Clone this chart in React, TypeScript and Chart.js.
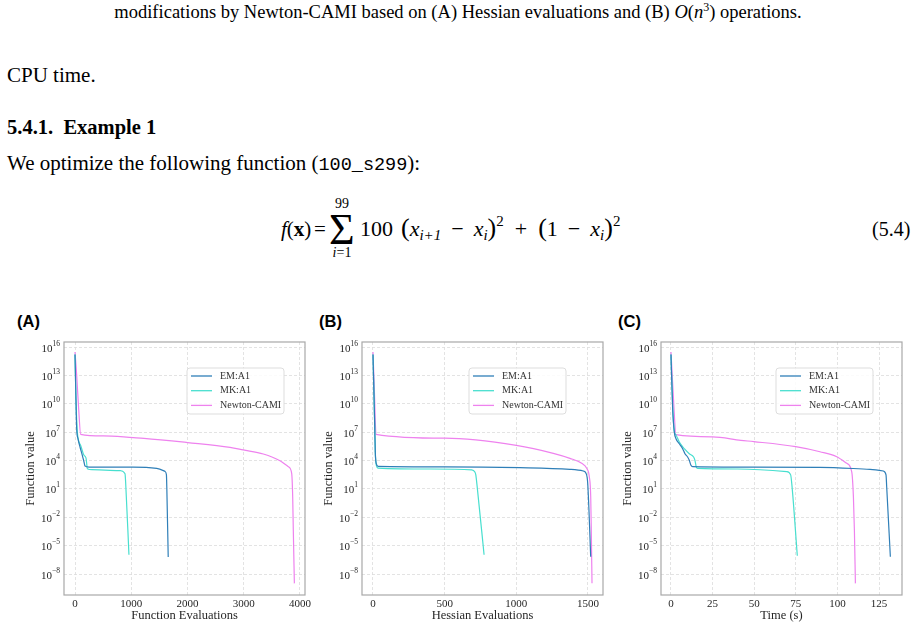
import React, { useEffect, useRef } from "react";
import { Chart, registerables } from "chart.js";

Chart.register(...registerables);

// ---------- data (x values and log10 of function value) ----------
// Panel A: Function Evaluations
const emA_x = [0, 15, 30, 53, 89, 130, 160, 178, 250, 1036, 1452, 1600, 1625, 1632, 1657];
const emA_log = [15.2, 11, 7.36, 6.31, 5.43, 4.55, 3.84, 3.42, 3.31, 3.3, 3.17, 2.85, 2.5, 1.2, -6.2];
const mkA_x = [0, 15, 41, 101, 160, 196, 208, 219, 300, 812, 889, 900, 959];
const mkA_log = [15.2, 11, 7.0, 5.6, 4.55, 4.26, 3.66, 3.13, 3.03, 2.92, 2.6, 1.73, -5.97];
const ncA_x = [0, 30, 65, 101, 500, 1036, 1227, 2001, 2756, 2990, 3348, 3644, 3793, 3852, 3870, 3881, 3900];
const ncA_log = [15.47, 13.0, 9.48, 6.77, 6.6, 6.42, 6.35, 5.9, 5.39, 5.12, 4.69, 3.98, 3.35, 2.65, 0.18, -3.35, -8.99];

// Panel B: Hessian Evaluations
const emB_x = [0, 12, 16, 23, 35, 500, 1025, 1374, 1467, 1486, 1498, 1519];
const emB_log = [15.2, 7.72, 4.9, 3.66, 3.38, 3.33, 3.24, 3.07, 2.89, 2.65, 1.59, -6.17];
const mkB_x = [0, 12, 16, 23, 35, 400, 689, 710, 717, 725, 775];
const mkB_log = [15.2, 7.72, 4.9, 3.5, 3.2, 3.1, 3.0, 2.8, 2.5, 1.5, -5.97];
const ncB_x = [0, 10, 21, 502, 1000, 1258, 1374, 1456, 1491, 1509, 1519, 1523, 1528];
const ncB_log = [15.47, 11.2, 6.77, 6.36, 5.6, 4.76, 4.23, 3.7, 3.17, 2.29, 0.18, -3.35, -8.99];

// Panel C: Time (s)
const emC_x = [0, 1.0, 2.0, 3.0, 5.0, 7.0, 8.4, 10, 11, 12, 13, 40, 89.5, 119.6, 127.6, 129.2, 129.6, 131.8];
const emC_log = [15.2, 9.48, 7.0, 6.3, 5.77, 5.25, 4.72, 4.37, 4.02, 3.49, 3.35, 3.3, 3.28, 3.07, 2.89, 2.47, 1.23, -6.17];
const mkC_x = [0, 1.0, 2.0, 3.0, 5.0, 8.0, 11, 13.6, 14.4, 15.2, 16, 40, 69.5, 71.9, 72.6, 75.9];
const mkC_log = [15.2, 9.8, 7.1, 6.7, 5.95, 5.25, 4.72, 4.37, 4.02, 3.31, 3.17, 3.1, 2.83, 2.48, 1.5, -6.07];
const ncC_x = [0, 1.5, 3.0, 25, 42, 49.8, 74.9, 89.5, 99.6, 105.6, 108.6, 109.6, 110.2, 110.8];
const ncC_log = [15.47, 10.5, 6.73, 6.5, 6.13, 6.0, 5.47, 4.93, 4.4, 3.7, 2.81, 0.18, -3.35, -8.99];

const seriesNames = ["EM:A1", "MK:A1", "Newton-CAMI"];
const seriesColors = ["#2f7fb8", "#48dfcf", "#ee82ee"];

const yTickValues = [1e-8, 1e-5, 1e-2, 1e1, 1e4, 1e7, 1e10, 1e13, 1e16];
const yTickBase = "10";
const yTickExponents = ["−8", "−5", "−2", "1", "4", "7", "10", "13", "16"];
const xTicksA = [0, 1000, 2000, 3000, 4000];
const xTicksB = [0, 500, 1000, 1500];
const xTicksC = [0, 25, 50, 75, 100, 125];

const FAMILY = "'Liberation Serif', 'Times New Roman', serif";
const TEXT = "#262626";

const toPoints = (xs: number[], logs: number[]) => xs.map((x, i) => ({ x, y: Math.pow(10, logs[i]) }));

const framePlugin = {
  id: "frameLegend",
  afterDraw(chart: any, _args: any, opts: any) {
    const { ctx, chartArea } = chart;
    const { left, top, right, bottom } = chartArea;
    ctx.save();
    // y tick labels with real superscripts
    const ys = chart.scales.y;
    ctx.fillStyle = TEXT;
    ctx.textBaseline = "alphabetic";
    ctx.textAlign = "left";
    yTickValues.forEach((v, i) => {
      const py = ys.getPixelForValue(v);
      ctx.font = `7.5px ${FAMILY}`;
      const ew = ctx.measureText(yTickExponents[i]).width;
      ctx.font = `11px ${FAMILY}`;
      const bw = ctx.measureText(yTickBase).width;
      const xr = left - 4;
      ctx.fillText(yTickBase, xr - ew - bw, py + 4.5);
      ctx.font = `7.5px ${FAMILY}`;
      ctx.fillText(yTickExponents[i], xr - ew, py - 1.5);
    });
    ctx.strokeStyle = "#a8a8a8";
    ctx.lineWidth = 1.2;
    ctx.strokeRect(left, top, right - left, bottom - top);
    // legend
    const lx = left + opts.legendLeft;
    const ly = top + 26;
    const w = 97, h = 46, r = 3;
    ctx.beginPath();
    ctx.moveTo(lx + r, ly);
    ctx.lineTo(lx + w - r, ly);
    ctx.quadraticCurveTo(lx + w, ly, lx + w, ly + r);
    ctx.lineTo(lx + w, ly + h - r);
    ctx.quadraticCurveTo(lx + w, ly + h, lx + w - r, ly + h);
    ctx.lineTo(lx + r, ly + h);
    ctx.quadraticCurveTo(lx, ly + h, lx, ly + h - r);
    ctx.lineTo(lx, ly + r);
    ctx.quadraticCurveTo(lx, ly, lx + r, ly);
    ctx.closePath();
    ctx.fillStyle = "rgba(255,255,255,0.85)";
    ctx.fill();
    ctx.strokeStyle = "#dddddd";
    ctx.lineWidth = 1;
    ctx.stroke();
    chart.data.datasets.forEach((ds: any, i: number) => {
      const ry = ly + 8 + i * 14.7;
      ctx.strokeStyle = ds.borderColor;
      ctx.lineWidth = 1.3;
      ctx.beginPath();
      ctx.moveTo(lx + 4, ry);
      ctx.lineTo(lx + 25, ry);
      ctx.stroke();
      ctx.fillStyle = "#333333";
      ctx.font = `10px ${FAMILY}`;
      ctx.textBaseline = "middle";
      ctx.textAlign = "left";
      ctx.fillText(ds.label, lx + 33, ry);
    });
    ctx.restore();
  },
};

type PanelProps = {
  left: number;
  xs: number[][];
  logs: number[][];
  xMin: number;
  xMax: number;
  xTicks: number[];
  xTitle: string;
  legendLeft: number;
};

function Panel({ left, xs, logs, xMin, xMax, xTicks, xTitle, legendLeft }: PanelProps) {
  const ref = useRef<HTMLCanvasElement>(null);
  useEffect(() => {
    const chart = new Chart(ref.current as HTMLCanvasElement, {
      type: "line",
      data: {
        datasets: seriesNames.map((name, i) => ({
          label: name,
          data: toPoints(xs[i], logs[i]),
          borderColor: seriesColors[i],
          backgroundColor: seriesColors[i],
          borderWidth: 1.2,
          pointRadius: 0,
          cubicInterpolationMode: "monotone" as const,
          fill: false,
        })),
      },
      options: {
        responsive: false,
        animation: false,
        layout: { padding: { left: 0, right: 15, top: 12, bottom: 0 } },
        plugins: {
          legend: { display: false },
          tooltip: { enabled: false },
          frameLegend: { legendLeft },
        } as any,
        scales: {
          x: {
            type: "linear",
            min: xMin,
            max: xMax,
            afterBuildTicks: (s: any) => {
              s.ticks = xTicks.map((v) => ({ value: v }));
            },
            afterFit: (s: any) => {
              s.height = 35;
            },
            ticks: {
              font: { family: FAMILY, size: 11 },
              color: TEXT,
              padding: 3,
              autoSkip: false,
              maxRotation: 0,
              callback: (v: any) => String(v),
            },
            grid: { color: "#dcdcdc", lineWidth: 0.8, drawTicks: false, borderDash: [3, 2] } as any,
            border: { display: false, dash: [3, 2] },
            title: {
              display: true,
              text: xTitle,
              font: { family: FAMILY, size: 12.5 },
              color: TEXT,
              padding: { top: 0, bottom: 6.5 },
            },
          },
          y: {
            type: "logarithmic",
            min: Math.pow(10, -10.22),
            max: Math.pow(10, 16.53),
            afterBuildTicks: (s: any) => {
              s.ticks = yTickValues.map((v) => ({ value: v }));
            },
            afterFit: (s: any) => {
              s.width = 54;
            },
            ticks: {
              display: false,
              autoSkip: false,
            },
            grid: { color: "#dcdcdc", lineWidth: 0.8, drawTicks: false, borderDash: [3, 2] } as any,
            border: { display: false, dash: [3, 2] },
            title: {
              display: true,
              text: "Function value",
              font: { family: FAMILY, size: 12.5 },
              color: TEXT,
              padding: { top: 13, bottom: 0 },
            },
          },
        },
      } as any,
      plugins: [framePlugin],
    });
    return () => chart.destroy();
  }, []);
  return (
    <div style={{ position: "absolute", left, top: 330, width: 310, height: 300 }}>
      <canvas ref={ref} width={310} height={300} style={{ width: 310, height: 300, display: "block" }} />
    </div>
  );
}

const serif = "'Liberation Serif', 'Times New Roman', serif";
const abs = (l: number, t: number, extra: React.CSSProperties = {}): React.CSSProperties => ({
  position: "absolute",
  left: l,
  top: t,
  whiteSpace: "nowrap",
  fontFamily: serif,
  color: "#000",
  ...extra,
});
const subSt: React.CSSProperties = { fontSize: 15, verticalAlign: "-4px", lineHeight: 0, fontStyle: "italic" };
const supSt: React.CSSProperties = { fontSize: 15, verticalAlign: "10px", lineHeight: 0 };
const gap = (w: number) => <span style={{ display: "inline-block", width: w }} />;
const bigParen: React.CSSProperties = { fontSize: 26, lineHeight: 0 };

export default function App() {
  return (
    <div style={{ position: "absolute", left: 0, top: 0, width: 913, height: 630, background: "#fff", overflow: "hidden" }}>
      <div style={abs(0, 1, { width: 916, textAlign: "center", fontSize: 18.5, lineHeight: "22px" })}>
        modifications by Newton-CAMI based on (A) Hessian evaluations and (B) <i>O</i>(<i>n</i>
        <sup style={{ fontSize: 12, lineHeight: 0 }}>3</sup>) operations.
      </div>
      <div style={abs(7, 63, { fontSize: 21, lineHeight: "24px" })}>CPU time.</div>
      <div style={abs(7, 115, { fontSize: 20.5, lineHeight: "24px", fontWeight: "bold" })}>5.4.1.&nbsp; Example 1</div>
      <div style={abs(7, 151, { fontSize: 21, lineHeight: "24px" })}>
        We optimize the following function (
        <span style={{ fontFamily: "'Liberation Mono', monospace", fontSize: 18.5 }}>100_s299</span>):
      </div>
      {/* equation */}
      <div style={abs(281, 214, { fontSize: 21, lineHeight: "30px" })}>
        <i>f</i>(<b>x</b>)
      </div>
      <div style={abs(314, 214, { fontSize: 21, lineHeight: "30px" })}>=</div>
      <div style={abs(329, 208, { fontSize: 44, lineHeight: "44px" })}>Σ</div>
      <div style={abs(328, 196, { width: 28, textAlign: "center", fontSize: 14, lineHeight: "16px" })}>99</div>
      <div style={abs(328, 245, { width: 28, textAlign: "center", fontSize: 14, lineHeight: "16px" })}>
        <i>i</i>=1
      </div>
      <div style={abs(360, 214, { fontSize: 22, lineHeight: "30px" })}>
        100{gap(8)}
        <span style={bigParen}>(</span>
        <i>x</i>
        <span style={subSt}>i+1</span>
        {gap(10)}−{gap(10)}
        <i>x</i>
        <span style={subSt}>i</span>
        <span style={bigParen}>)</span>
        <span style={supSt}>2</span>
        {gap(11)}+{gap(11)}
        <span style={bigParen}>(</span>1{gap(10)}−{gap(10)}
        <i>x</i>
        <span style={subSt}>i</span>
        <span style={bigParen}>)</span>
        <span style={supSt}>2</span>
      </div>
      <div style={abs(872, 214, { fontSize: 20, lineHeight: "30px" })}>(5.4)</div>

      {/* panel labels */}
      <div style={abs(17, 311, { fontFamily: "'Liberation Sans', Arial, sans-serif", fontWeight: "bold", fontSize: 16.5, lineHeight: "20px" })}>(A)</div>
      <div style={abs(319, 311, { fontFamily: "'Liberation Sans', Arial, sans-serif", fontWeight: "bold", fontSize: 16.5, lineHeight: "20px" })}>(B)</div>
      <div style={abs(618, 311, { fontFamily: "'Liberation Sans', Arial, sans-serif", fontWeight: "bold", fontSize: 16.5, lineHeight: "20px" })}>(C)</div>

      <Panel
        left={10}
        xs={[emA_x, mkA_x, ncA_x]}
        logs={[emA_log, mkA_log, ncA_log]}
        xMin={-195.6}
        xMax={4088.9}
        xTicks={xTicksA}
        xTitle="Function Evaluations"
        legendLeft={123}
      />
      <Panel
        left={308}
        xs={[emB_x, mkB_x, ncB_x]}
        logs={[emB_log, mkB_log, ncB_log]}
        xMin={-76.7}
        xMax={1604.7}
        xTicks={xTicksB}
        xTitle="Hessian Evaluations"
        legendLeft={107}
      />
      <Panel
        left={607}
        xs={[emC_x, mkC_x, ncC_x]}
        logs={[emC_log, mkC_log, ncC_log]}
        xMin={-6.0}
        xMax={138.8}
        xTicks={xTicksC}
        xTitle="Time (s)"
        legendLeft={115}
      />
    </div>
  );
}
